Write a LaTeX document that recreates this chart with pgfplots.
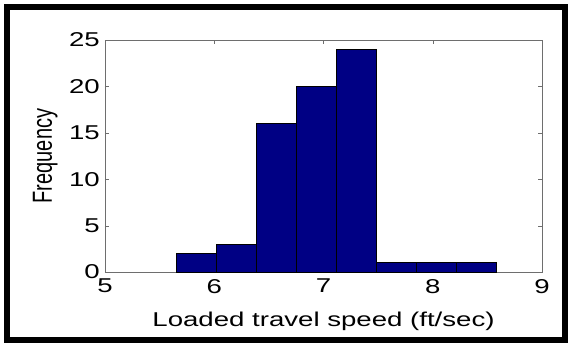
\documentclass[border=0pt]{standalone}
\usepackage{fontspec}
\setmainfont[FakeStretch=1.38]{Liberation Sans}
\newfontfamily\plainfont{Liberation Sans}
\usepackage{pgfplots}
\pgfplotsset{compat=1.18}
\definecolor{barblue}{RGB}{0,0,132}
\definecolor{axgray}{RGB}{110,110,110}
\begin{document}
\begin{tikzpicture}[x=1bp,y=1bp]
\path (-105,-77) rectangle (467,272);
\draw[line width=5.5bp, black] (-98,265) rectangle (460,-68);
\begin{axis}[
  at={(0,0)}, anchor=south west,
  scale only axis, width=437bp, height=232bp,
  xmin=5, xmax=9, ymin=0, ymax=25,
  xtick={5,6,7,8,9}, ytick={0,5,10,15,20,25},
  tick align=inside, major tick length=4bp,
  axis line style={draw=axgray},
  tick style={draw=axgray},
  font=\fontsize{20bp}{24bp}\selectfont,
  /pgf/number format/assume math mode=true,
  tick label style={inner sep=0pt},
  yticklabel style={xshift=-5bp},
  xticklabel style={yshift=-7bp},
  xlabel={Loaded travel speed (ft/sec)},
  xlabel style={at={(axis description cs:0.5,0)}, anchor=base, yshift=-54bp, inner sep=0pt},
  ylabel={\scalebox{1}[1.38]{\plainfont Frequency}},
  ylabel style={at={(axis description cs:-0.1213,0.5)}, rotate=0, anchor=base, inner sep=0pt},
]
\addplot[ybar interval, fill=barblue, draw=black, line width=0.6bp] coordinates {
(5.656,2) (6.022,3) (6.388,16) (6.754,20) (7.120,24) (7.486,1) (7.852,1) (8.218,1) (8.584,1)
};
\end{axis}
\end{tikzpicture}
\end{document}
